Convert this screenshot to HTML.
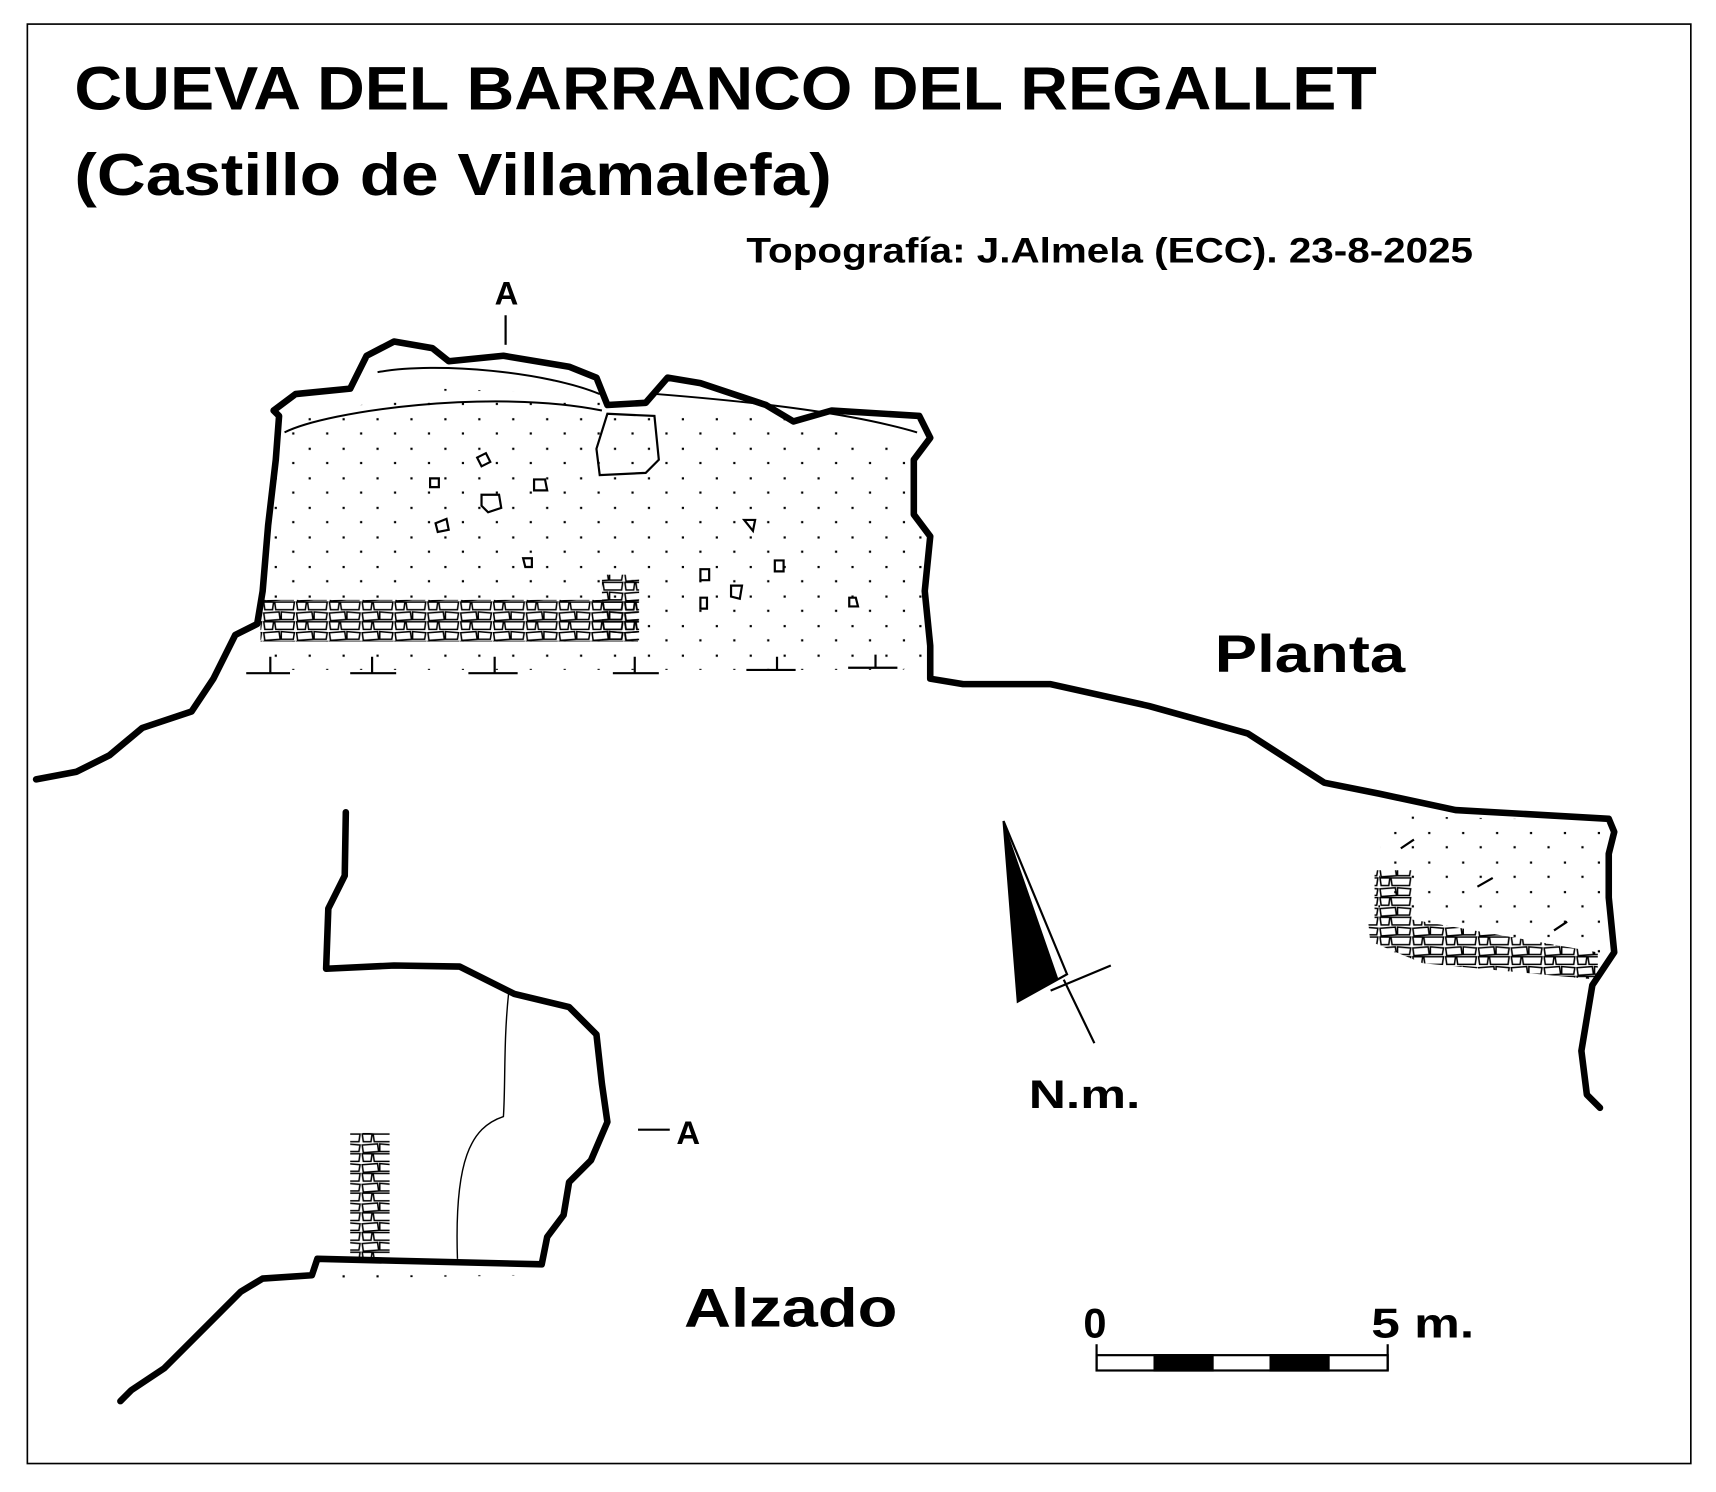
<!DOCTYPE html>
<html><head><style>html,body{margin:0;padding:0;background:#fff}svg{display:block}</style></head>
<body>
<svg width="1716" height="1492" viewBox="0 0 1568 1363" preserveAspectRatio="none" xmlns="http://www.w3.org/2000/svg">
<defs>
<pattern id="dots" width="31" height="27" patternUnits="userSpaceOnUse">
<rect x="3" y="4" width="2" height="2" fill="#000"/><rect x="19" y="17" width="2" height="2" fill="#000"/>
</pattern>
<pattern id="stones" width="30" height="18" patternUnits="userSpaceOnUse">
<path d="M1,2 L15,1 L16,8 L2,9Z M17,1 L29,2 L28,8 L17,8Z M1,10 L10,10 L9,17 L2,17Z M11,10 L29,10 L28,17 L12,17Z" fill="none" stroke="#000" stroke-width="1.4"/>
</pattern>
</defs>
<rect x="25" y="22" width="1520" height="1315" fill="none" stroke="#000" stroke-width="1.5"/>
<g font-family="Liberation Sans, sans-serif" font-weight="bold" fill="#000">
<text x="68" y="100" font-size="56" textLength="1190" lengthAdjust="spacingAndGlyphs">CUEVA DEL BARRANCO DEL REGALLET</text>
<text x="68" y="178" font-size="54" textLength="692" lengthAdjust="spacingAndGlyphs">(Castillo de Villamalefa)</text>
<text x="682" y="240" font-size="32" textLength="664" lengthAdjust="spacingAndGlyphs">Topografía: J.Almela (ECC). 23-8-2025</text>
<text x="452" y="278" font-size="30">A</text>
<text x="618" y="1045" font-size="30">A</text>
<text x="1110" y="614" font-size="48" textLength="174" lengthAdjust="spacingAndGlyphs">Planta</text>
<text x="625" y="1212" font-size="50" textLength="195" lengthAdjust="spacingAndGlyphs">Alzado</text>
<text x="940" y="1012" font-size="36" textLength="102" lengthAdjust="spacingAndGlyphs">N.m.</text>
<text x="990" y="1222" font-size="38">0</text>
<text x="1253" y="1222" font-size="38" textLength="94" lengthAdjust="spacingAndGlyphs">5 m.</text>
</g>
<line x1="462" y1="288" x2="462" y2="315" stroke="#000" stroke-width="2"/>
<line x1="583" y1="1032" x2="612" y2="1032" stroke="#000" stroke-width="2"/>
<path d="M255,385 L320,372 L400,355 L545,360 L555,372 L600,372 L700,375 L760,392 L830,405 L835,470 L850,490 L845,540 L850,600 L825,612 L240,612 L240,540 L252,420Z" fill="url(#dots)"/>
<path d="M1262,745 L1470,750 L1470,880 L1258,880Z" fill="url(#dots)"/>
<path d="M260,395 C300,375 450,355 550,375 M600,360 C700,368 780,378 838,395 M345,340 C400,330 500,340 548,360" fill="none" stroke="#000" stroke-width="1.8"/>
<path d="M555,378 L598,380 L602,420 L590,432 L548,434 L545,410Z" fill="none" stroke="#000" stroke-width="2"/>
<rect x="238" y="548" width="345" height="38" fill="#fff"/>
<rect x="238" y="548" width="345" height="38" fill="url(#stones)"/>
<rect x="550" y="525" width="34" height="60" fill="url(#stones)"/>
<rect x="1256" y="795" width="34" height="60" fill="url(#stones)"/>
<path d="M1250,840 L1290,840 L1460,870 L1460,895 L1300,880 L1252,860Z" fill="#fff"/>
<path d="M1250,840 L1290,840 L1460,870 L1460,895 L1300,880 L1252,860Z" fill="url(#stones)"/>
<rect x="320" y="1035" width="36" height="115" fill="url(#stones)"/>
<g fill="none" stroke="#000" stroke-width="2">
<path d="M440,452 l16,0 l2,12 l-12,4 l-6,-6z M398,478 l10,-4 l2,10 l-10,2z M488,438 l10,0 l2,10 l-12,0z M436,418 l8,-4 l4,8 l-8,4z M668,535 l10,0 l-2,12 l-8,-2z M640,520 l8,0 l0,10 l-8,0z M680,475 l10,0 l-2,10z M708,512 l8,0 l0,10 l-8,0z M776,546 l6,0 l2,8 l-8,0z M640,546 l6,0 l0,10 l-6,0z M393,437 l8,0 l0,8 l-8,0z M478,510 l8,0 l0,8 l-6,0z"/>
<path d="M225,615 h40 M247,615 v-15 M320,615 h42 M340,615 v-15 M428,615 h45 M452,615 v-15 M560,615 h42 M580,615 v-15 M682,612 h45 M710,612 v-12 M775,610 h45 M800,610 v-12"/>
<path d="M1280,775 l12,-8 M1350,810 l14,-8 M1420,850 l12,-8"/>
<path d="M465,905 C460,950 462,990 460,1020 C430,1030 415,1060 418,1150" stroke-width="1.3"/>
</g>
<g fill="none" stroke="#000" stroke-width="6" stroke-linejoin="round" stroke-linecap="round">
<path d="M33,712 L70,705 L100,690 L130,665 L175,650 L195,620 L215,580 L235,570 L240,540 L245,480 L252,420 L255,380 L250,375 L270,360 L320,355 L335,325 L360,312 L395,318 L410,330 L460,325 L520,335 L545,345 L555,370 L590,368 L610,345 L640,350 L700,370 L725,385 L760,375 L840,380 L850,400 L835,420 L835,470 L850,490 L845,540 L850,590 L850,620 L880,625 L960,625 L1050,645 L1140,670 L1210,715 L1260,725 L1330,740 L1470,748 L1475,760 L1470,780 L1470,820 L1475,870 L1455,900 L1445,960 L1450,1000 L1462,1012"/>
<path d="M316,742 L315,800 L300,830 L298,885 L360,882 L420,883 L470,908 L520,920 L545,945 L550,990 L555,1025 L540,1060 L520,1080 L515,1110 L500,1130 L495,1155 L290,1150 L285,1165 L240,1168 L220,1180 L190,1210 L150,1250 L120,1270 L110,1280"/>
</g>
<path d="M290,1155 L500,1160 L495,1165 L290,1168Z" fill="url(#dots)"/>
<path d="M917,750 L930,915 L975,890Z" fill="#fff" stroke="#000" stroke-width="2"/>
<path d="M917,750 L930,915 L967,894Z" fill="#000"/>
<path d="M972,895 L1000,953 M960,905 L1015,882" stroke="#000" stroke-width="2"/>
<g stroke="#000" stroke-width="2">
<rect x="1002" y="1238" width="266" height="14" fill="#fff"/>
<rect x="1055" y="1238" width="53" height="14" fill="#000"/>
<rect x="1161" y="1238" width="53" height="14" fill="#000"/>
<line x1="1002" y1="1228" x2="1002" y2="1252"/><line x1="1268" y1="1228" x2="1268" y2="1252"/>
</g>
</svg>
</body></html>
